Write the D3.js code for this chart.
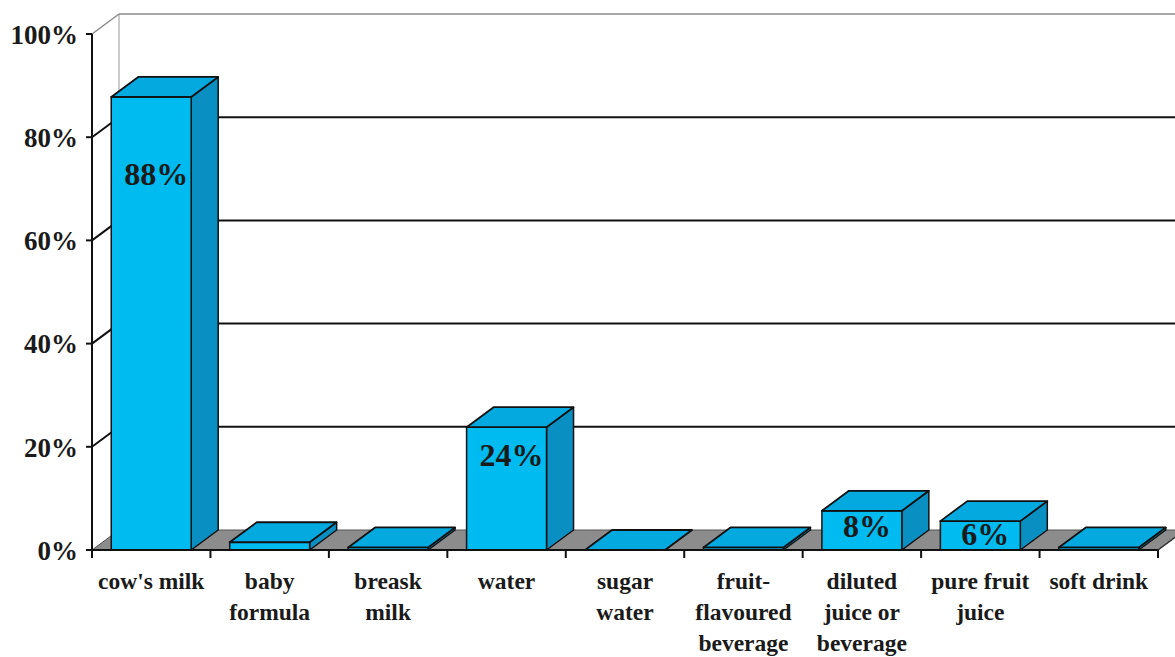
<!DOCTYPE html>
<html>
<head>
<meta charset="utf-8">
<script src="https://cdn.jsdelivr.net/npm/d3@7"></script>
<style>
  html, body { margin: 0; padding: 0; background: #fff; }
  svg { display: block; }
  text { font-family: "Liberation Serif", "Times New Roman", serif; font-weight: bold; fill: #1a1a1a; }
</style>
</head>
<body>
<div id="chart"></div>
<script>
// data
const categories = ["cow's milk", "baby formula", "breask milk", "water", "sugar water",
  "fruit-flavoured beverage", "diluted juice or beverage", "pure fruit juice", "soft drink"];
const tickLabels = [["cow's milk"], ["baby", "formula"], ["breask", "milk"], ["water"], ["sugar", "water"],
  ["fruit-", "flavoured", "beverage"], ["diluted", "juice or", "beverage"], ["pure fruit", "juice"], ["soft drink"]];
const values = [0.878, 0.015, 0.005, 0.238, 0, 0.005, 0.076, 0.056, 0.005];
const labelled = [true, false, false, true, false, false, true, true, false];
const yTicks = [0, 0.2, 0.4, 0.6, 0.8, 1.0];

const W = 1175, H = 657;
const plotL = 92, plotR = 1158, plotT = 34, plotB = 550;
const dx = 27, dy = -20; // 3d depth

const svg = d3.select("#chart").append("svg").attr("width", W).attr("height", H);

const x = d3.scaleBand().domain(categories).range([plotL, plotR]).padding(0);
const y = d3.scaleLinear().domain([0, 1]).range([plotB, plotT]);
const barW = x.bandwidth() * 0.675;

// floor
svg.append("path")
  .attr("d", `M${plotL},${y(0)} L${plotR},${y(0)} L${plotR + dx},${y(0) + dy} L${plotL + dx},${y(0) + dy} Z`)
  .attr("fill", "#8c8c8c").attr("stroke", "#555").attr("stroke-width", 1);

// back wall edge
svg.append("line")
  .attr("x1", plotL + dx).attr("x2", plotL + dx)
  .attr("y1", y(1) + dy).attr("y2", y(0) + dy)
  .attr("stroke", "#999").attr("stroke-width", 1);

// gridlines: side wall diagonal + back wall horizontal
yTicks.filter(t => t > 0).forEach(t => {
  const col = t === 1 ? "#8a8a8a" : "#111";
  const sw = t === 1 ? 1.5 : 2;
  svg.append("line")
    .attr("x1", plotL).attr("y1", y(t))
    .attr("x2", plotL + dx).attr("y2", y(t) + dy)
    .attr("stroke", col).attr("stroke-width", sw);
  svg.append("line")
    .attr("x1", plotL + dx).attr("y1", y(t) + dy)
    .attr("x2", W + 10).attr("y2", y(t) + dy)
    .attr("stroke", col).attr("stroke-width", sw);
});

// bars
const bars = svg.append("g").selectAll("g").data(categories).join("g");
bars.each(function (c, i) {
  const g = d3.select(this);
  const x0 = x(c) + (x.bandwidth() - barW) / 2, x1 = x0 + barW;
  const yt = y(values[i]), yb = y(0);
  // side
  g.append("path")
    .attr("d", `M${x1},${yb} L${x1 + dx},${yb + dy} L${x1 + dx},${yt + dy} L${x1},${yt} Z`)
    .attr("fill", "#0a8fc2").attr("stroke", "#111").attr("stroke-width", 1.5).attr("stroke-linejoin", "round");
  // front
  g.append("rect")
    .attr("x", x0).attr("y", yt).attr("width", barW).attr("height", yb - yt)
    .attr("fill", "#00bbef").attr("stroke", "#111").attr("stroke-width", 1.5);
  // top
  g.append("path")
    .attr("d", `M${x0},${yt} L${x1},${yt} L${x1 + dx},${yt + dy} L${x0 + dx},${yt + dy} Z`)
    .attr("fill", "#03a9df").attr("stroke", "#111").attr("stroke-width", 1.8).attr("stroke-linejoin", "round");
  if (labelled[i]) {
    const h = yb - yt;
    g.append("text")
      .attr("x", x0 + barW / 2 + 5).attr("y", yt + 20 + 0.15 * h)
      .attr("text-anchor", "middle").attr("font-size", 32)
      .text(Math.round(values[i] * 100) + "%");
  }
});

// front axis lines
svg.append("line").attr("x1", plotL).attr("x2", plotL).attr("y1", y(1)).attr("y2", y(0) + 1)
  .attr("stroke", "#111").attr("stroke-width", 2);
svg.append("line").attr("x1", plotL - 6).attr("x2", plotR + 1).attr("y1", y(0)).attr("y2", y(0))
  .attr("stroke", "#111").attr("stroke-width", 2);
svg.append("line").attr("x1", plotR).attr("y1", y(0)).attr("x2", plotR + dx).attr("y2", y(0) + dy)
  .attr("stroke", "#333").attr("stroke-width", 1.5);

// y axis ticks + labels
const yAxis = svg.append("g");
yTicks.forEach(t => {
  yAxis.append("line").attr("x1", plotL - 6).attr("x2", plotL).attr("y1", y(t)).attr("y2", y(t))
    .attr("stroke", "#111").attr("stroke-width", 2);
  yAxis.append("text").attr("x", plotL - 14).attr("y", y(t)).attr("dy", "0.36em")
    .attr("text-anchor", "end").attr("font-size", 27)
    .text(d3.format(".0%")(t));
});

// x ticks at band boundaries
const bounds = categories.map(c => x(c)).concat([plotR]);
bounds.forEach(b => {
  svg.append("line").attr("x1", b).attr("x2", b).attr("y1", y(0)).attr("y2", y(0) + 8)
    .attr("stroke", "#111").attr("stroke-width", 2);
});

// category labels
categories.forEach((c, i) => {
  const t = svg.append("text").attr("text-anchor", "middle").attr("font-size", 23.5);
  tickLabels[i].forEach((ln, k) => {
    t.append("tspan").attr("x", x(c) + x.bandwidth() / 2).attr("y", 589 + k * 31).text(ln);
  });
});
</script>
</body>
</html>
